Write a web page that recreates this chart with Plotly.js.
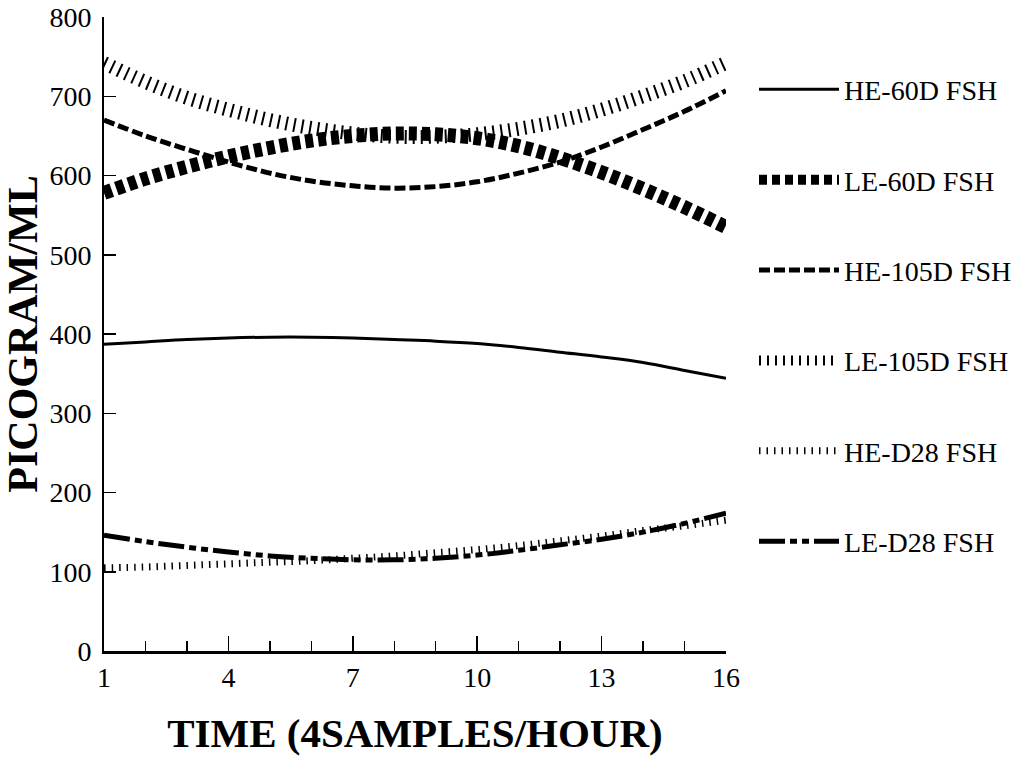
<!DOCTYPE html>
<html>
<head>
<meta charset="utf-8">
<script src="https://cdn.plot.ly/plotly-3.0.1.min.js"></script>
<style>
  html, body { margin: 0; padding: 0; background: #fff; }
  #chart { width: 1034px; height: 759px; }
</style>
</head>
<body>
<div id="chart"></div>
<script>
const timePoints = [1, 2, 3, 4, 5, 6, 7, 8, 9, 10, 11, 12, 13, 14, 15, 16];
const he60dFsh  = [387, 390, 393, 395, 396, 396, 395, 393, 391, 388, 383, 377, 371, 364, 354, 344];
const le60dFsh  = [578, 596, 611, 624, 635, 644, 650, 653, 652, 647, 637, 622, 604, 583, 560, 535];
const he105dFsh = [670, 650, 633, 617, 603, 593, 587, 584, 586, 592, 603, 617, 636, 658, 681, 707];
const le105dFsh = [742, 718, 698, 683, 670, 660, 653, 649, 649, 652, 659, 669, 683, 700, 719, 742];
const heD28Fsh  = [105, 106, 108, 110, 112, 114, 117, 120, 124, 128, 133, 139, 145, 152, 158, 165];
const leD28Fsh  = [146, 138, 131, 125, 120, 117, 115, 115, 117, 121, 127, 134, 141, 150, 161, 174];

const seriesNames = ["HE-60D FSH", "LE-60D FSH", "HE-105D FSH", "LE-105D FSH", "HE-D28 FSH", "LE-D28 FSH"];
const xTickVals = [1, 4, 7, 10, 13, 16];
const yTickVals = [0, 100, 200, 300, 400, 500, 600, 700, 800];

const FONT = "Liberation Serif, Times New Roman, serif";

function mk(name, y, width, dash, group) {
  return {
    x: timePoints, y: y, name: name, type: "scatter", mode: "lines",
    line: { color: "#000", width: width, dash: dash, shape: "spline", smoothing: 1 },
    legendgroup: group, hoverinfo: "skip"
  };
}

const data = [
  mk(seriesNames[0], he60dFsh, 3, "solid", "g1"),
  mk(seriesNames[1], le60dFsh, 14, "8px,5px", "g2"),
  mk(seriesNames[2], he105dFsh, 5, "11px,4px", "g3"),
  mk(seriesNames[3], le105dFsh, 14, "2px,6px", "g4"),
  mk(seriesNames[4], heD28Fsh, 7, "1.5px,6px", "g5"),
  mk(seriesNames[5], leD28Fsh, 5, "26px,5px,7px,5px,7px,5px", "g6")
];

const layout = {
  width: 1034, height: 759,
  paper_bgcolor: "#fff", plot_bgcolor: "#fff",
  margin: { l: 104, r: 308, t: 17, b: 108 },
  font: { family: FONT, color: "#000", size: 28 },
  showlegend: true,
  legend: {
    x: 1.045, y: 0.925, xanchor: "left", yanchor: "top",
    font: { family: FONT, size: 28, color: "#000" },
    itemwidth: 80,
    tracegroupgap: 51, bgcolor: "rgba(0,0,0,0)", borderwidth: 0
  },
  xaxis: {
    range: [1, 16], tickvals: xTickVals, ticktext: xTickVals.map(String),
    ticks: "inside", ticklen: 15, tickwidth: 1.5, tickcolor: "#000",
    minor: { dtick: 1, tick0: 1, ticks: "inside", ticklen: 10, tickwidth: 1.5, tickcolor: "#000" },
    showline: true, linecolor: "#000", linewidth: 2.5,
    showgrid: false, zeroline: false,
    tickfont: { family: FONT, size: 28, color: "#000" },
    title: { text: "<b>TIME (4SAMPLES/HOUR)</b>", font: { family: FONT, size: 41, color: "#000" }, standoff: 26 }
  },
  yaxis: {
    range: [0, 800], tickvals: yTickVals, ticktext: yTickVals.map(String),
    ticks: "inside", ticklen: 12, tickwidth: 1.5, tickcolor: "#000",
    showline: true, linecolor: "#000", linewidth: 2,
    showgrid: false, zeroline: false,
    ticklabelstandoff: 5,
    tickfont: { family: FONT, size: 28, color: "#000" },
    title: { text: "<b>PICOGRAM/ML</b>", font: { family: FONT, size: 42, color: "#000" }, standoff: 6 }
  }
};

Plotly.newPlot("chart", data, layout, { displayModeBar: false, staticPlot: true });
</script>
</body>
</html>
